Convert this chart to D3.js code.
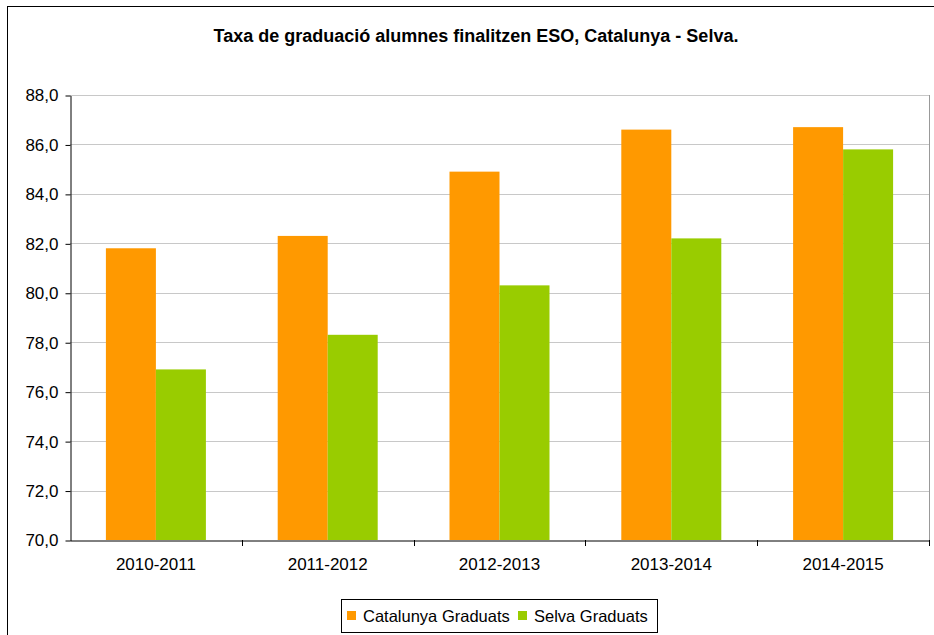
<!DOCTYPE html>
<html>
<head>
<meta charset="utf-8">
<script src="https://cdn.jsdelivr.net/npm/d3@7"></script>
<style>
  body { margin: 0; background: #fff; }
  text { font-family: "Liberation Sans", Arial, sans-serif; fill: #000; }
</style>
</head>
<body>
<svg id="chart" width="934" height="635"></svg>
<script>
var categories = ["2010-2011", "2011-2012", "2012-2013", "2013-2014", "2014-2015"];
var series = ["Catalunya Graduats", "Selva Graduats"];
var catalunya = [81.8, 82.3, 84.9, 86.6, 86.7];
var selva = [76.9, 78.3, 80.3, 82.2, 85.8];
var yTicks = [70, 72, 74, 76, 78, 80, 82, 84, 86, 88];
var colors = ["#ff9900", "#99cc00"];

var svg = d3.select("#chart");

// outer chart frame (right and bottom edges fall outside the picture)
svg.append("rect")
   .attr("x", 7.5).attr("y", 6.5)
   .attr("width", 940).attr("height", 640)
   .attr("fill", "none").attr("stroke", "#000");

svg.append("text")
   .attr("x", 476).attr("y", 42)
   .attr("text-anchor", "middle")
   .attr("font-size", "18px").attr("font-weight", "bold")
   .text("Taxa de graduació alumnes finalitzen ESO, Catalunya - Selva.");

var plotLeft = 70, plotRight = 929, plotTop = 95, plotBottom = 540;

var x0 = d3.scaleBand().domain(categories).range([plotLeft, plotRight]).padding(0);
var x1 = d3.scaleBand().domain(series).range([0, x0.bandwidth()]).paddingInner(0).paddingOuter(0.718);
var y = d3.scaleLinear().domain([70, 88]).range([plotBottom, plotTop]);

var locale = d3.formatLocale({decimal: ",", thousands: ".", grouping: [3], currency: ["", "€"]});
var fmt = locale.format(".1f");

// gridlines
svg.append("g").selectAll("line").data(yTicks.slice(1)).join("line")
   .attr("x1", plotLeft).attr("x2", plotRight)
   .attr("y1", d => Math.round(y(d)) + 0.5).attr("y2", d => Math.round(y(d)) + 0.5)
   .attr("stroke", "#c8c8c8");

// plot area right border
svg.append("line")
   .attr("x1", plotRight + 0.5).attr("x2", plotRight + 0.5)
   .attr("y1", plotTop).attr("y2", plotBottom + 6)
   .attr("stroke", "#999");

// bars
var rows = categories.map((c, i) => ({cat: c, vals: [catalunya[i], selva[i]]}));
var groups = svg.append("g").selectAll("g").data(rows).join("g")
   .attr("transform", d => "translate(" + x0(d.cat) + ",0)");
groups.selectAll("rect").data(d => d.vals.map((v, j) => ({s: series[j], v: v, j: j}))).join("rect")
   .attr("x", d => x1(d.s))
   .attr("y", d => y(d.v))
   .attr("width", x1.bandwidth())
   .attr("height", d => plotBottom - y(d.v))
   .attr("fill", d => colors[d.j]);

// y axis
var yAxis = svg.append("g")
   .attr("transform", "translate(" + (plotLeft + 0.5) + ",0.5)")
   .call(d3.axisLeft(y).tickValues(yTicks).tickFormat(fmt).tickSize(5).tickSizeOuter(0));
yAxis.select(".domain").attr("stroke", "#000");
yAxis.selectAll("text").attr("font-size", "17px").attr("fill", "#000")
   .attr("font-family", "Liberation Sans, Arial, sans-serif").attr("x", -12);

// x axis
var xAxis = svg.append("g")
   .attr("transform", "translate(0," + (plotBottom + 0.5) + ")")
   .call(d3.axisBottom(x0).tickSize(0).tickSizeOuter(0));
xAxis.select(".domain").attr("stroke", "#000");
xAxis.selectAll("text").attr("font-size", "17px").attr("fill", "#000")
   .attr("font-family", "Liberation Sans, Arial, sans-serif")
   .attr("y", 29).attr("dy", 0);
// category boundary ticks
svg.append("g").selectAll("line").data(categories.slice(1).concat(["end"])).join("line")
   .attr("x1", d => Math.round(d === "end" ? plotRight : x0(d)) + 0.5)
   .attr("x2", d => Math.round(d === "end" ? plotRight : x0(d)) + 0.5)
   .attr("y1", plotBottom).attr("y2", plotBottom + 6)
   .attr("stroke", "#000");

// legend
var legend = svg.append("g");
legend.append("rect")
   .attr("x", 341.5).attr("y", 599.5).attr("width", 316).attr("height", 33)
   .attr("fill", "#fff").attr("stroke", "#000");
var legendX = [347, 518];
series.forEach(function(s, i) {
  legend.append("rect")
     .attr("x", legendX[i]).attr("y", 611).attr("width", 9).attr("height", 9)
     .attr("fill", colors[i]);
  legend.append("text")
     .attr("x", legendX[i] + 16).attr("y", 622)
     .attr("font-size", "16.5px")
     .text(s);
});
</script>
</body>
</html>
